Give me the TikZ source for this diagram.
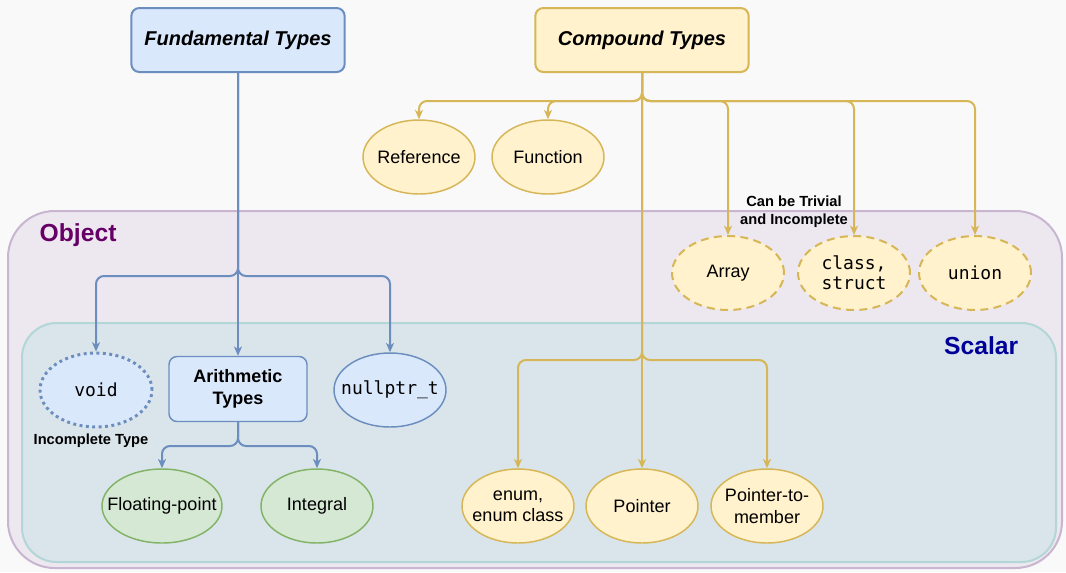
\documentclass[tikz,border=0pt]{standalone}
\usepackage{fontspec}
\setmainfont{Liberation Sans}
\setmonofont{DejaVu Sans Mono}
\usepackage{tikz}
\usetikzlibrary{arrows.meta}
\usetikzlibrary{positioning}
\usetikzlibrary{calc}
\usetikzlibrary{shapes.geometric}

\definecolor{bluefill}{HTML}{DAE8FC}
\definecolor{bluedraw}{HTML}{6C8EBF}
\definecolor{yellowfill}{HTML}{FFF2CC}
\definecolor{yellowdraw}{HTML}{D6B656}
\definecolor{greenfill}{HTML}{D5E8D4}
\definecolor{greendraw}{HTML}{82B366}
\definecolor{objfill}{HTML}{EDE7F0}
\definecolor{objdraw}{HTML}{C8B6D0}
\definecolor{scalfill}{HTML}{DAE5EB}
\definecolor{scaldraw}{HTML}{B3D6D6}
\definecolor{bgcol}{HTML}{F9F9F9}
\definecolor{objtext}{HTML}{660066}
\definecolor{scaltext}{HTML}{000099}

\begin{document}
\begin{tikzpicture}
  [
    x=0.75pt,y=-0.75pt,
    every node/.style={font=\fontsize{13.5}{16}\selectfont,align=center},
    titlebox/.style={
      draw,line width=1.5pt,rounded corners=6pt,
      minimum width=160pt,minimum height=48pt,
      font=\fontsize{15}{18}\selectfont\bfseries\itshape
    },
    typeell/.style={ellipse,draw,line width=1.1pt,inner xsep=-40pt,inner ysep=-15pt,minimum width=84pt,minimum height=55.5pt},
    blueell/.style={typeell,fill=bluefill,draw=bluedraw},
    yellowell/.style={typeell,fill=yellowfill,draw=yellowdraw},
    greenell/.style={typeell,fill=greenfill,draw=greendraw},
    optell/.style={yellowell,line width=1.5pt,dash pattern=on 6pt off 4pt},
    note/.style={font=\fontsize{11}{13.5}\selectfont\bfseries},
    fedge/.style={draw=bluedraw,line width=1.5pt,rounded corners=6pt,-{Stealth[length=7pt,width=6pt,inset=2pt]}},
    cedge/.style={draw=yellowdraw,line width=1.5pt,rounded corners=6pt,-{Stealth[length=7pt,width=6pt,inset=2pt]}},
  ]
    % canvas
    \fill [bgcol] (0,0) rectangle (1066,572);
    \useasboundingbox (0,0) rectangle (1066,572);
    % containers
    \draw [fill=objfill,draw=objdraw,line width=1.5pt,rounded corners=35pt] (8,211) rectangle (1062,568);
    \draw [fill=scalfill,draw=scaldraw,line width=1.5pt,rounded corners=26pt] (22,323) rectangle (1056,562);
    \node [anchor=west,text=objtext,font=\fontsize{18.5}{22}\selectfont\bfseries] (objlabel) at (35,235) {Object};
    \node [anchor=east,text=scaltext,font=\fontsize{18.5}{22}\selectfont\bfseries] (scallabel) at (1023,346) {Scalar};
    % top boxes
    \node [titlebox,fill=bluefill,draw=bluedraw] (fund) at (238,40) {Fundamental Types};
    \node [titlebox,fill=yellowfill,draw=yellowdraw] (comp) at (642,40) {Compound Types};
    % compound, not object
    \node [yellowell] (ref) at (419,157) {Reference};
    \node [yellowell] (func) at (548,157) {Function};
    % compound, object
    \node [optell] (array) at (728,273) {Array};
    \node [optell,font=\fontsize{13.5}{15}\selectfont\ttfamily] (cls) at (854,273) {class,\\struct};
    \node [optell,font=\fontsize{13.5}{15}\selectfont\ttfamily] (uni) at (975,273) {union};
    \node [note] (trivial) at (794,212) {Can be Trivial\\and Incomplete};
    % fundamental, scalar
    \node [blueell,line width=2.2pt,dash pattern=on 2.2pt off 2.6pt,font=\fontsize{13.5}{16}\selectfont\ttfamily] (void) at (96,390) {void};
    \node [note] (incomplete) at (91,441) {Incomplete Type};
    \node [draw=bluedraw,fill=bluefill,line width=1.1pt,rounded corners=6pt,minimum width=103.5pt,minimum height=48.75pt,font=\fontsize{13.5}{16}\selectfont\bfseries] (arith) at (238,389) {Arithmetic\\Types};
    \node [blueell,font=\fontsize{13.5}{16}\selectfont\ttfamily] (nullp) at (390,390) {nullptr\_t};
    \node [greenell,minimum width=90pt] (float) at (162,506) {Floating-point};
    \node [greenell] (integ) at (317,506) {Integral};
    % compound, scalar
    \node [yellowell] (enum) at (518,506) {enum,\\enum class};
    \node [yellowell] (ptr) at (642,506) {Pointer};
    \node [yellowell] (ptm) at (767,506) {Pointer-to-\\member};
    % fundamental edges
    \coordinate (fj) at (238,276);
    \draw [fedge] (fund.south) -- (arith.north);
    \draw [fedge] (fund.south) -- (fj) -| (void.north);
    \draw [fedge] (fund.south) -- (fj) -| (nullp.north);
    \coordinate (aj) at (238,446);
    \draw [fedge] (arith.south) -- (aj) -| (float.north);
    \draw [fedge] (arith.south) -- (aj) -| (integ.north);
    % compound edges
    \coordinate (cj) at (642,101);
    \coordinate (sj) at (642,360);
    \foreach \n in {ref,func,array,cls,uni}
      \draw [cedge] (comp.south) -- (cj) -| (\n.north);
    \draw [cedge] (comp.south) -- (ptr.north);
    \draw [cedge] (comp.south) -- (sj) -| (enum.north);
    \draw [cedge] (comp.south) -- (sj) -| (ptm.north);
  \end{tikzpicture}
\end{document}
